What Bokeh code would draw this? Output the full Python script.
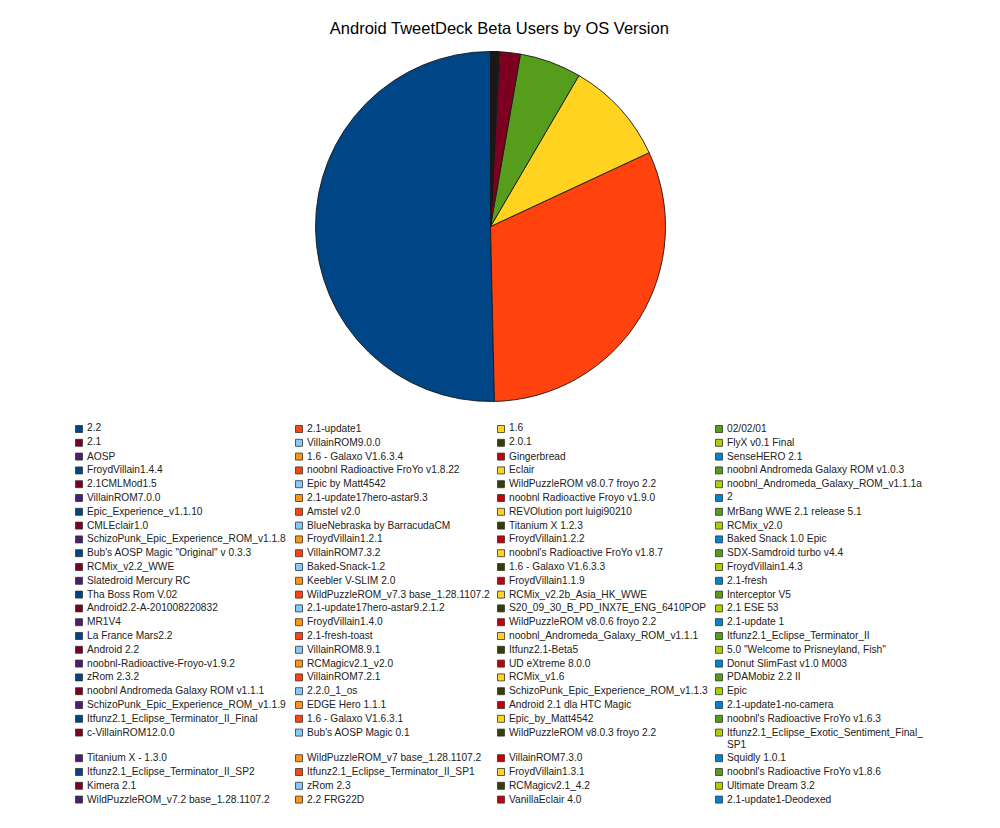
import math
from bokeh.plotting import figure
from bokeh.models import ColumnDataSource, Range1d
from bokeh.core.properties import value
from bokeh.embed import file_html
from bokeh.resources import INLINE

# chart data (legend order, largest share first)
versions = [
    "2.2", "2.1-update1", "1.6", "02/02/01",
    "2.1", "VillainROM9.0.0", "2.0.1", "FlyX v0.1 Final",
    "AOSP", "1.6 - Galaxo V1.6.3.4", "Gingerbread", "SenseHERO 2.1",
    "FroydVillain1.4.4", "noobnl Radioactive FroYo v1.8.22", "Eclair", "noobnl Andromeda Galaxy ROM v1.0.3",
    "2.1CMLMod1.5", "Epic by Matt4542", "WildPuzzleROM v8.0.7 froyo 2.2", "noobnl_Andromeda_Galaxy_ROM_v1.1.1a",
    "VillainROM7.0.0", "2.1-update17hero-astar9.3", "noobnl Radioactive Froyo v1.9.0", "2",
    "Epic_Experience_v1.1.10", "Amstel v2.0", "REVOlution port luigi90210", "MrBang WWE 2.1 release 5.1",
    "CMLEclair1.0", "BlueNebraska by BarracudaCM", "Titanium X 1.2.3", "RCMix_v2.0",
    "SchizoPunk_Epic_Experience_ROM_v1.1.8", "FroydVillain1.2.1", "FroydVillain1.2.2", "Baked Snack 1.0 Epic",
    "Bub's AOSP Magic \"Original\" v 0.3.3", "VillainROM7.3.2", "noobnl's Radioactive FroYo v1.8.7", "SDX-Samdroid turbo v4.4",
    "RCMix_v2.2_WWE", "Baked-Snack-1.2", "1.6 - Galaxo V1.6.3.3", "FroydVillain1.4.3",
    "Slatedroid Mercury RC", "Keebler V-SLIM 2.0", "FroydVillain1.1.9", "2.1-fresh",
    "Tha Boss Rom V.02", "WildPuzzleROM_v7.3 base_1.28.1107.2", "RCMix_v2.2b_Asia_HK_WWE", "Interceptor V5",
    "Android2.2-A-201008220832", "2.1-update17hero-astar9.2.1.2", "S20_09_30_B_PD_INX7E_ENG_6410POP", "2.1 ESE 53",
    "MR1V4", "FroydVillain1.4.0", "WildPuzzleROM v8.0.6 froyo 2.2", "2.1-update 1",
    "La France Mars2.2", "2.1-fresh-toast", "noobnl_Andromeda_Galaxy_ROM_v1.1.1", "Itfunz2.1_Eclipse_Terminator_II",
    "Android 2.2", "VillainROM8.9.1", "Itfunz2.1-Beta5", "5.0 \"Welcome to Prisneyland, Fish\"",
    "noobnl-Radioactive-Froyo-v1.9.2", "RCMagicv2.1_v2.0", "UD eXtreme 8.0.0", "Donut SlimFast v1.0 M003",
    "zRom 2.3.2", "VillainROM7.2.1", "RCMix_v1.6", "PDAMobiz 2.2 II",
    "noobnl Andromeda Galaxy ROM v1.1.1", "2.2.0_1_os", "SchizoPunk_Epic_Experience_ROM_v1.1.3", "Epic",
    "SchizoPunk_Epic_Experience_ROM_v1.1.9", "EDGE Hero 1.1.1", "Android 2.1 dla HTC Magic", "2.1-update1-no-camera",
    "Itfunz2.1_Eclipse_Terminator_II_Final", "1.6 - Galaxo V1.6.3.1", "Epic_by_Matt4542", "noobnl's Radioactive FroYo v1.6.3",
    "c-VillainROM12.0.0", "Bub's AOSP Magic 0.1", "WildPuzzleROM v8.0.3 froyo 2.2", "Itfunz2.1_Eclipse_Exotic_Sentiment_Final_\nSP1",
    "Titanium X - 1.3.0", "WildPuzzleROM_v7 base_1.28.1107.2", "VillainROM7.3.0", "Squidly 1.0.1",
    "Itfunz2.1_Eclipse_Terminator_II_SP2", "Itfunz2.1_Eclipse_Terminator_II_SP1", "FroydVillain1.3.1", "noobnl's Radioactive FroYo v1.8.6",
    "Kimera 2.1", "zRom 2.3", "RCMagicv2.1_4.2", "Ultimate Dream 3.2",
    "WildPuzzleROM_v7.2 base_1.28.1107.2", "2.2 FRG22D", "VanillaEclair 4.0", "2.1-update1-Deodexed",
]

users = [
    10080, 6320, 1928, 1140,
    380, 12, 8, 6,
    5, 4, 4, 3,
    3, 3, 3, 2,
    2, 2, 2, 2,
    2, 2, 2, 2,
    2, 2, 2, 2,
    2, 2, 2, 2,
    2, 2, 2, 1,
    1, 1, 1, 1,
    1, 1, 1, 1,
    1, 1, 1, 1,
    1, 1, 1, 1,
    1, 1, 1, 1,
    1, 1, 1, 1,
    1, 1, 1, 1,
    1, 1, 1, 1,
    1, 1, 1, 1,
    1, 1, 1, 1,
    1, 1, 1, 1,
    1, 1, 1, 1,
    1, 1, 1, 1,
    1, 1, 1, 1,
    1, 1, 1, 1,
    1, 1, 1, 1,
    1, 1, 1, 1,
    1, 1, 1, 1,
    1, 1, 1, 1,
]

palette = ["#004586", "#ff420e", "#ffd320", "#579d1c", "#7e0021", "#83caff",
           "#314004", "#aecf00", "#4b1f6f", "#ff950e", "#c5000b", "#0084d1"]

W, H = 984, 812
FONT = "Liberation Sans"

# wedge angles: start at 12 o'clock, run anticlockwise
total = float(sum(users))
starts, ends = [], []
acc = 0.0
for u in users:
    starts.append(math.pi / 2 + 2 * math.pi * acc / total)
    acc += u
    ends.append(math.pi / 2 + 2 * math.pi * acc / total)
colors = [palette[i % len(palette)] for i in range(len(users))]

pie = ColumnDataSource(dict(start=starts, end=ends, color=colors, version=versions, users=users))

p = figure(width=W, height=H, x_range=Range1d(0, W), y_range=Range1d(0, H),
           x_axis_type=None, y_axis_type=None, toolbar_location=None,
           min_border=0, output_backend="svg", outline_line_color=None)
p.grid.visible = False

p.wedge(x=490, y=H - 226, radius=175, start_angle="start", end_angle="end",
        fill_color="color", line_color="#1a1a1a", line_width=0.9, source=pie)

p.text(x=[499], y=[H - 27.5], text=["Android TweetDeck Beta Users by OS Version"],
       text_font=value(FONT), text_font_size="16.5px", text_color="#000000",
       text_align="center", text_baseline="middle")

# legend grid, row-major, 4 columns
col_x = [75, 295, 497, 715]
sx, sy, tx, ty = [], [], [], []
for i in range(len(versions)):
    row, col = divmod(i, 4)
    yy = 428.5 + 13.8 * row
    if row >= 23:
        yy += 11.8
    sx.append(col_x[col] + 3.5)
    sy.append(H - yy)
    tx.append(col_x[col] + 11.5)
    ty.append(H - yy + 6)

leg = ColumnDataSource(dict(sx=sx, sy=sy, tx=tx, ty=ty, color=colors, label=versions))
p.rect(x="sx", y="sy", width=7, height=7, width_units="screen", height_units="screen",
       fill_color="color", line_color="#333333", line_width=0.8, source=leg)
p.text(x="tx", y="ty", text="label", text_font=value(FONT), text_font_size="10.2px",
       text_color="#222222", text_baseline="top", text_line_height=1.1, source=leg)

open("out.html", "w").write(file_html(p, INLINE))
